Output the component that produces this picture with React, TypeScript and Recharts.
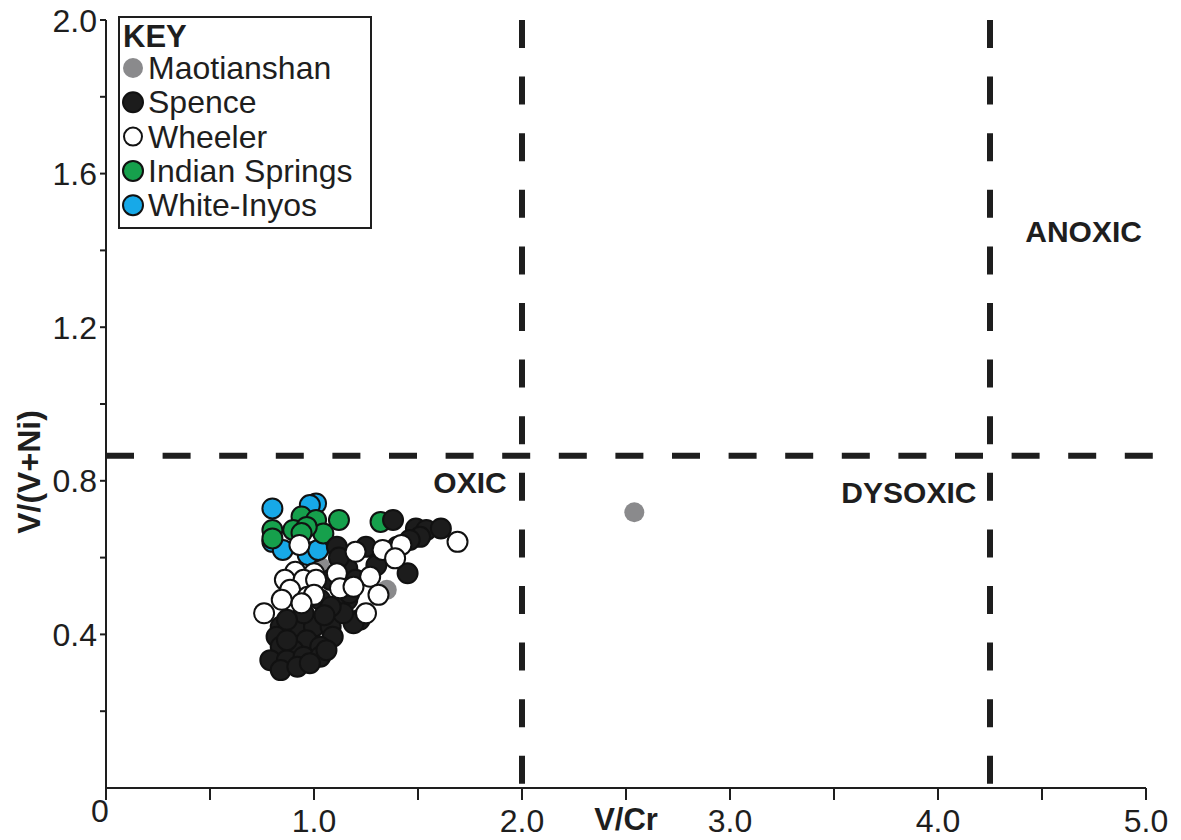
import { ScatterChart, Scatter, XAxis, YAxis, ReferenceLine, ReferenceDot, Legend } from 'recharts'

const FONT = '"Liberation Sans", Arial, Helvetica, sans-serif'
const INK = '#1e1e1e'

// [V/Cr, V/(V+Ni)]
const maotianshan = [[2.54, 0.718], [1.35, 0.516], [1.03, 0.576]]
const whiteInyos = [
  [0.8, 0.728], [1.01, 0.741], [0.98, 0.737], [0.8, 0.641],
  [0.85, 0.62], [1.0, 0.615], [0.97, 0.607], [1.02, 0.62],
]
const indianSprings = [
  [0.94, 0.707], [1.01, 0.698], [1.12, 0.698], [1.32, 0.693], [0.8, 0.672],
  [0.9, 0.672], [1.045, 0.663], [0.8, 0.65], [0.965, 0.68], [0.94, 0.664],
]
const spence = [
  [1.38, 0.698], [1.49, 0.676], [1.54, 0.672], [1.61, 0.676], [1.51, 0.654],
  [1.46, 0.646], [1.11, 0.628], [1.25, 0.628], [1.4, 0.628], [1.45, 0.559],
  [1.16, 0.572], [1.2, 0.542], [1.08, 0.542], [1.03, 0.49], [1.16, 0.49],
  [1.22, 0.438], [1.19, 0.429], [0.84, 0.42], [0.92, 0.42], [1.0, 0.42],
  [1.08, 0.42], [0.82, 0.394], [0.965, 0.385], [1.09, 0.394], [0.84, 0.368],
  [0.9, 0.359], [1.03, 0.368], [0.79, 0.333], [0.87, 0.333], [0.95, 0.342],
  [1.03, 0.342], [0.84, 0.307], [0.92, 0.316], [0.98, 0.325], [1.06, 0.359],
  [0.87, 0.385], [1.14, 0.455], [1.17, 0.507], [0.95, 0.455], [0.87, 0.438],
  [1.08, 0.472], [1.12, 0.6], [1.3, 0.58], [1.05, 0.45],
]
const wheeler = [
  [0.93, 0.633], [1.2, 0.615], [1.33, 0.62], [1.42, 0.633], [1.69, 0.641],
  [1.39, 0.598], [0.91, 0.563], [1.0, 0.559], [1.11, 0.559], [0.86, 0.542],
  [0.95, 0.542], [1.01, 0.542], [1.27, 0.55], [0.885, 0.516], [0.97, 0.498],
  [1.0, 0.503], [0.845, 0.49], [0.94, 0.481], [1.125, 0.52], [1.31, 0.503],
  [1.25, 0.455], [0.76, 0.455], [1.19, 0.524],
]

const xTicks = [0, 0.5, 1, 1.5, 2, 2.5, 3, 3.5, 4, 4.5, 5]
const xTickLabels = ['0', '', '1.0', '', '2.0', '', '3.0', '', '4.0', '', '5.0']
const yTicks = [0.2, 0.4, 0.6, 0.8, 1.0, 1.2, 1.4, 1.6, 1.8, 2.0]
const yTickLabels = ['', '0.4', '', '0.8', '', '1.2', '', '1.6', '', '2.0']

// redox thresholds
const vCrLimits = [2.0, 4.25]
const vNiLimit = 0.865

const zoneNames = ['OXIC', 'DYSOXIC', 'ANOXIC']
const zoneX = [1.75, 3.86, 4.7]
const zoneY = [0.797, 0.771, 1.451]

const legendOrder = ['Maotianshan', 'Spence', 'Wheeler', 'Indian Springs', 'White-Inyos']

const styles: Record<string, { fill: string; stroke: string }> = {
  Maotianshan: { fill: '#8a8a8c', stroke: 'none' },
  Spence: { fill: '#1c1c1c', stroke: '#111' },
  Wheeler: { fill: '#ffffff', stroke: '#111' },
  'Indian Springs': { fill: '#16a04c', stroke: '#111' },
  'White-Inyos': { fill: '#17a9e8', stroke: '#111' },
}

// drawing order: grey underneath, white on top
const series: [string, number[][]][] = [
  ['Maotianshan', maotianshan],
  ['White-Inyos', whiteInyos],
  ['Indian Springs', indianSprings],
  ['Spence', spence],
  ['Wheeler', wheeler],
]

const toPoints = (rows: number[][]) => rows.map(([x, y]) => ({ x, y }))

function XTick({ x, y, payload }: any) {
  const label = xTickLabels[xTicks.indexOf(payload.value)]
  const isZero = label === '0'
  return (
    <g>
      <line x1={x} y1={y} x2={x} y2={y + 12} stroke={INK} strokeWidth={2} />
      {label && (
        <text x={isZero ? x - 6 : x} y={isZero ? y + 34 : y + 44} textAnchor="middle"
          fontFamily={FONT} fontSize={32} fill={INK}>{label}</text>
      )}
    </g>
  )
}

function YTick({ x, y, payload }: any) {
  const label = yTickLabels[yTicks.indexOf(payload.value)]
  return (
    <g>
      <line x1={x - 6} y1={y} x2={x} y2={y} stroke={INK} strokeWidth={2} />
      {label && (
        <text x={x - 9} y={y + 11.5} textAnchor="end" fontFamily={FONT} fontSize={32} fill={INK}>{label}</text>
      )}
    </g>
  )
}

function KeyBox() {
  return (
    <svg width={254} height={213} style={{ display: 'block' }}>
      <rect x={1} y={1} width={252} height={211} fill="#fff" stroke={INK} strokeWidth={2} />
      <text x={5} y={31} fontFamily={FONT} fontSize={31} fontWeight="bold" fill={INK}>KEY</text>
      {legendOrder.map((name, i) => {
        const cy = 52 + 34.3 * i
        const st = styles[name]
        const r = name === 'Wheeler' ? 9 : 10
        return (
          <g key={name}>
            <circle cx={15} cy={cy} r={r} fill={st.fill} stroke={st.stroke} strokeWidth={2} />
            <text x={30} y={cy + 11} fontFamily={FONT} fontSize={32} fill={INK}>{name}</text>
          </g>
        )
      })}
    </svg>
  )
}

export default function App() {
  const dash = { stroke: INK, strokeWidth: 6, strokeDasharray: '28 28.6' }
  return (
    <div style={{ position: 'absolute', left: 0, top: 0, background: '#fff' }}>
      <ScatterChart width={1181} height={840} margin={{ top: 20, right: 35, bottom: 0, left: 0 }}>
        <XAxis type="number" dataKey="x" domain={[0, 5]} ticks={xTicks} interval={0} height={52}
          tickSize={0} tickMargin={0} tickLine={false} tick={<XTick />}
          axisLine={{ stroke: INK, strokeWidth: 2 }}
          label={{
            content: () => (
              <text x={626} y={830} textAnchor="middle" fontFamily={FONT} fontSize={31}
                fontWeight="bold" fill={INK}>V/Cr</text>
            ),
          }}
        />
        <YAxis type="number" dataKey="y" domain={[0, 2]} ticks={yTicks} interval={0} width={106}
          tickSize={0} tickMargin={0} tickLine={false} tick={<YTick />}
          axisLine={{ stroke: INK, strokeWidth: 2 }}
          label={{
            content: () => (
              <text x={29} y={472} textAnchor="middle" dy={11} transform="rotate(-90 29 472)"
                fontFamily={FONT} fontSize={32} fontWeight="bold" fill={INK}>V/(V+Ni)</text>
            ),
          }}
        />
        {vCrLimits.map(v => (
          <ReferenceLine key={v} segment={[{ x: v, y: 2 }, { x: v, y: 0 }]} ifOverflow="visible" {...dash} />
        ))}
        <ReferenceLine segment={[{ x: 0, y: vNiLimit }, { x: 5.07, y: vNiLimit }]} ifOverflow="visible" {...dash} />
        {series.map(([name, rows]) => (
          <Scatter key={name} name={name} data={toPoints(rows)} isAnimationActive={false}
            shape={(p: any) => (
              <circle cx={p.cx} cy={p.cy} r={10} fill={styles[name].fill}
                stroke={styles[name].stroke} strokeWidth={2} />
            )}
          />
        ))}
        {zoneNames.map((name, i) => (
          <ReferenceDot key={name} x={zoneX[i]} y={zoneY[i]} r={0} ifOverflow="visible"
            shape={(p: any) => (
              <text x={p.cx} y={p.cy} dy={10.7} textAnchor="middle" fontFamily={FONT}
                fontSize={30} fontWeight="bold" fill={INK}>{name}</text>
            )}
          />
        ))}
        <Legend layout="vertical" align="center" verticalAlign="middle" content={<KeyBox />}
          wrapperStyle={{ left: 118, top: 16, width: 254, height: 213 }} />
      </ScatterChart>
    </div>
  )
}
